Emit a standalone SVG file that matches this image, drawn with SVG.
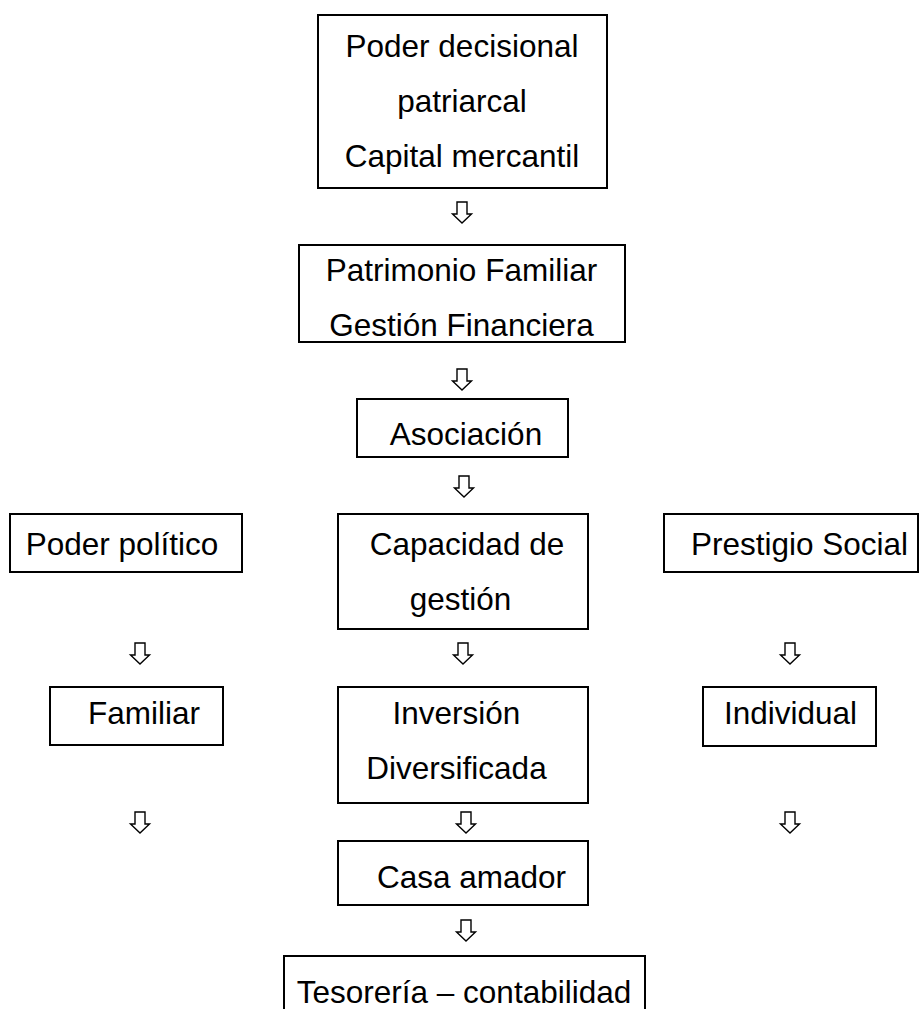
<svg xmlns="http://www.w3.org/2000/svg" width="920" height="1009" viewBox="0 0 920 1009">
<defs>
<style>
.box{fill:#fff;stroke:#000;stroke-width:2}
.t{font-family:"Liberation Sans",Arial,sans-serif;font-size:31.5px;fill:#000;text-anchor:middle}
.arr{fill:#fff;stroke:#000;stroke-width:1.4;stroke-linejoin:miter}
</style>
<path id="ar" d="M-5,0 H5 V12 H9.5 L0,21 L-9.5,12 H-5 Z"/>
</defs>
<rect width="920" height="1009" fill="#fff"/>
<g id="connectors" class="arr">
<use href="#ar" x="462" y="202"/>
<use href="#ar" x="462" y="369"/>
<use href="#ar" x="464" y="476"/>
<use href="#ar" x="140" y="643"/>
<use href="#ar" x="463" y="643"/>
<use href="#ar" x="790" y="643"/>
<use href="#ar" x="140" y="812"/>
<use href="#ar" x="466" y="812"/>
<use href="#ar" x="790" y="812"/>
<use href="#ar" x="466" y="920"/>
</g>
<g id="n1"><rect class="box" x="318" y="15" width="289" height="173"/>
<text class="t" x="462" y="57">Poder decisional</text>
<text class="t" x="462" y="112">patriarcal</text>
<text class="t" x="462" y="167">Capital mercantil</text></g>
<g id="n2"><rect class="box" x="299" y="245" width="326" height="97"/>
<text class="t" x="461.5" y="281">Patrimonio Familiar</text>
<text class="t" x="461.5" y="336">Gestión Financiera</text></g>
<g id="n3"><rect class="box" x="357" y="399" width="211" height="58"/>
<text class="t" x="466" y="445">Asociación</text></g>
<g id="n4"><rect class="box" x="10" y="514" width="232" height="58"/>
<text class="t" x="122" y="555">Poder político</text></g>
<g id="n5"><rect class="box" x="338" y="514" width="250" height="115"/>
<text class="t" x="467" y="555">Capacidad de</text>
<text class="t" x="460.5" y="610">gestión</text></g>
<g id="n6"><rect class="box" x="664" y="514" width="254" height="58"/>
<text class="t" x="799.5" y="555">Prestigio Social</text></g>
<g id="n7"><rect class="box" x="50" y="687" width="173" height="58"/>
<text class="t" x="144" y="724">Familiar</text></g>
<g id="n8"><rect class="box" x="338" y="687" width="250" height="116"/>
<text class="t" x="456.5" y="724">Inversión</text>
<text class="t" x="456.5" y="779">Diversificada</text></g>
<g id="n9"><rect class="box" x="703" y="687" width="173" height="59"/>
<text class="t" x="790.5" y="724">Individual</text></g>
<g id="n10"><rect class="box" x="338" y="841" width="250" height="64"/>
<text class="t" x="471.5" y="888">Casa amador</text></g>
<g id="n11"><path class="box" d="M284,1012 V956 H645 V1012"/>
<text class="t" x="464" y="1003">Tesorería – contabilidad</text></g>
</svg>
